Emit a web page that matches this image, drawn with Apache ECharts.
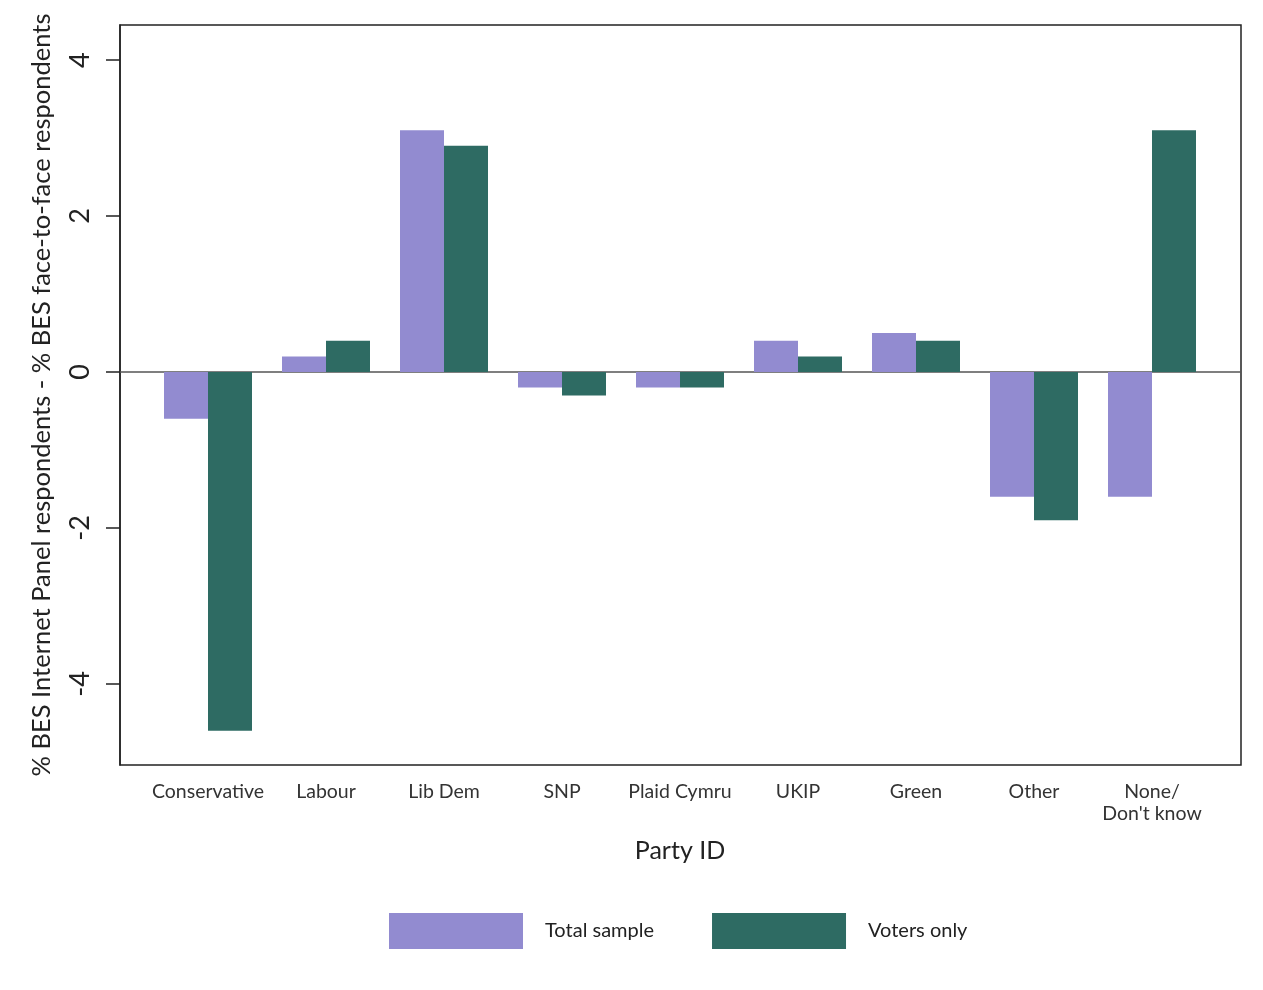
<!DOCTYPE html>
<html>
<head>
<meta charset="utf-8">
<script src="https://cdn.jsdelivr.net/npm/echarts@6/dist/echarts.min.js"></script>
<style>
html,body{margin:0;padding:0;background:#fff;}
#chart{width:1263px;height:990px;}
</style>
</head>
<body>
<div id="chart"></div>
<script>
const categories = ['Conservative','Labour','Lib Dem','SNP','Plaid Cymru','UKIP','Green','Other','None/\nDon\'t know'];
const totalSample = [-0.6, 0.2, 3.1, -0.2, -0.2, 0.4, 0.5, -1.6, -1.6];
const votersOnly = [-4.6, 0.4, 2.9, -0.3, -0.2, 0.2, 0.4, -1.9, 3.1];
const yTicks = [-4, -2, 0, 2, 4];
const seriesNames = ['Total sample', 'Voters only'];

const FONT = 'Lato, "Open Sans", sans-serif';
const yMin = -5.04, yMax = 4.45;

const chart = echarts.init(document.getElementById('chart'), null, {renderer: 'canvas'});
chart.setOption({
  animation: false,
  backgroundColor: '#fff',
  textStyle: {fontFamily: FONT},
  grid: [
    {left: 120, top: 25, width: 1121, height: 740, show: true, borderColor: '#222', borderWidth: 1.5, backgroundColor: 'transparent'},
    {left: 149, top: 25, width: 1062, height: 740}
  ],
  xAxis: [
    {gridIndex: 0, type: 'value', min: 0, max: 1, show: false},
    {gridIndex: 1, type: 'category', data: categories,
     axisLine: {show: false}, axisTick: {show: false},
     axisLabel: {fontSize: 19.5, color: '#333', margin: 16, lineHeight: 22, fontFamily: FONT, interval: 0},
     name: 'Party ID', nameLocation: 'middle', nameGap: 73,
     nameTextStyle: {fontSize: 25, color: '#222', fontFamily: FONT}}
  ],
  yAxis: [
    {gridIndex: 0, type: 'value', min: yMin, max: yMax,
     axisLine: {show: true, lineStyle: {color: '#222', width: 1.5}},
     axisTick: {show: true, length: 14, customValues: yTicks, lineStyle: {color: '#222', width: 1.5}},
     axisLabel: {customValues: yTicks, rotate: 90, fontSize: 27, color: '#222', margin: 26, fontFamily: FONT},
     splitLine: {show: false},
     name: '% BES Internet Panel respondents - % BES face-to-face respondents',
     nameLocation: 'middle', nameGap: 65,
     nameTextStyle: {fontSize: 25.5, color: '#222', fontFamily: FONT}},
    {gridIndex: 1, type: 'value', min: yMin, max: yMax, show: false, splitLine: {show: false}}
  ],
  legend: {
    data: seriesNames,
    left: 384, top: 908,
    icon: 'rect', itemWidth: 134, itemHeight: 36, itemGap: 58,
    textStyle: {fontSize: 20, color: '#222', padding: [0, 0, 0, 17], fontFamily: FONT}
  },
  series: [
    {type: 'line', xAxisIndex: 0, yAxisIndex: 0, data: [[0, null]], symbol: 'none', silent: true, z: 1,
     markLine: {silent: true, symbol: 'none', label: {show: false},
       lineStyle: {color: '#555', width: 1.5, type: 'solid'}, data: [{yAxis: 0}]}},
    {name: seriesNames[0], type: 'bar', xAxisIndex: 1, yAxisIndex: 1, data: totalSample,
     barWidth: 44, barGap: '0%', z: 5, itemStyle: {color: '#928BD0'}},
    {name: seriesNames[1], type: 'bar', xAxisIndex: 1, yAxisIndex: 1, data: votersOnly,
     barWidth: 44, barGap: '0%', z: 5, itemStyle: {color: '#2E6B63'}}
  ]
});
</script>
</body>
</html>
